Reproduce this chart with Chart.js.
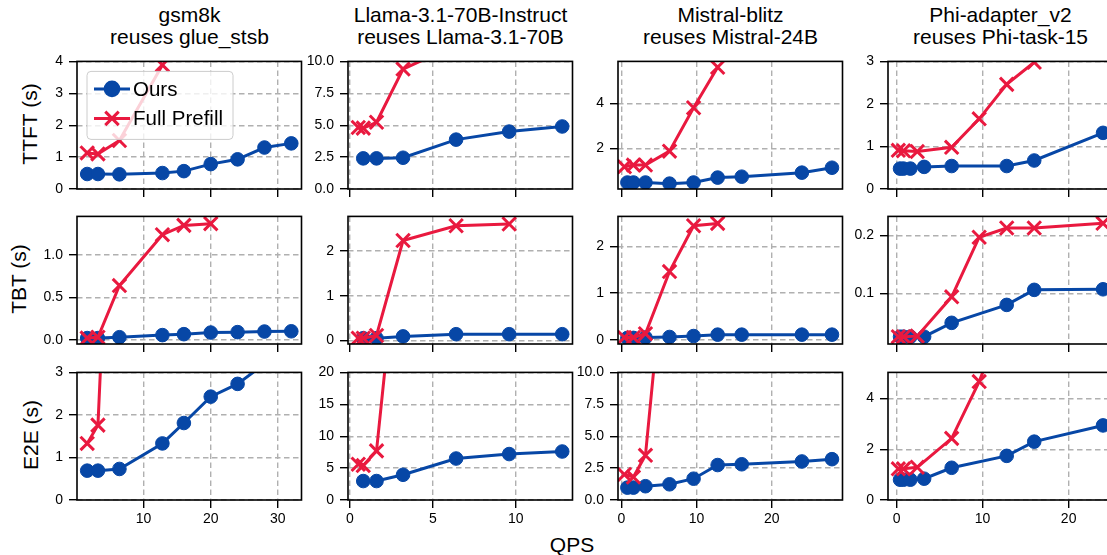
<!DOCTYPE html>
<html>
<head>
<meta charset="utf-8">
<script src="https://cdn.jsdelivr.net/npm/chart.js@4.4.1/dist/chart.umd.min.js"></script>
<style>
html, body { margin: 0; padding: 0; width: 1107px; height: 555px; overflow: hidden; background: #fff; }
body { position: relative; font-family: 'Liberation Sans', Arial, sans-serif; color: #000; }
canvas { position: absolute; }
.title { position: absolute; white-space: nowrap; font-size: 21px; line-height: 22px; text-align: center; transform: translateX(-50%); }
.ylab { position: absolute; white-space: nowrap; font-size: 21px; line-height: 24px; transform: translate(-50%, -50%) rotate(-90deg); }
.xlab { position: absolute; white-space: nowrap; font-size: 21px; line-height: 24px; transform: translate(-50%, -50%); }
</style>
</head>
<body>
<script>
// ---- data ----
const titles = [
    ['gsm8k', 'reuses glue_stsb'],
    ['Llama-3.1-70B-Instruct', 'reuses Llama-3.1-70B'],
    ['Mistral-blitz', 'reuses Mistral-24B'],
    ['Phi-adapter_v2', 'reuses Phi-task-15']
];
const rowLabels = ['TTFT (s)', 'TBT (s)', 'E2E (s)'];
const xLabel = 'QPS';
const seriesNames = ['Ours', 'Full Prefill'];

// QPS sampled per column
const oursQps = [
    [1.6, 3.2, 6.4, 12.8, 16, 20, 24, 28, 32],
    [0.8, 1.6, 3.2, 6.4, 9.6, 12.8],
    [0.8, 1.6, 3.2, 6.4, 9.6, 12.8, 16, 24, 28],
    [0.4, 0.8, 1.6, 3.2, 6.4, 12.8, 16, 24]
];
const fullQps = [
    [1.6, 3.2, 6.4, 12.8, 16, 20],
    [0.5, 0.8, 1.6, 3.2, 6.4, 9.6],
    [0.4, 1.6, 3.2, 6.4, 9.6, 12.8],
    [0.2, 0.8, 2.4, 6.4, 9.6, 12.8, 16, 24]
];

const ttftOurs = [
    [0.47, 0.47, 0.46, 0.50, 0.56, 0.78, 0.93, 1.30, 1.43],
    [2.4, 2.4, 2.45, 3.87, 4.5, 4.9],
    [0.47, 0.47, 0.47, 0.42, 0.47, 0.69, 0.73, 0.91, 1.13],
    [0.48, 0.48, 0.48, 0.52, 0.54, 0.54, 0.67, 1.32]
];
const ttftFull = [
    [1.13, 1.10, 1.52, 3.89],
    [4.82, 4.77, 5.23, 9.4, 11.3, 13.0],
    [1.17, 1.25, 1.25, 1.87, 3.81, 5.62],
    [0.91, 0.90, 0.88, 0.98, 1.65, 2.46, 2.98, 4.2]
];
const tbtOurs = [
    [0.02, 0.02, 0.03, 0.055, 0.066, 0.085, 0.09, 0.097, 0.10],
    [0.05, 0.05, 0.09, 0.14, 0.14, 0.14],
    [0.04, 0.04, 0.05, 0.06, 0.08, 0.11, 0.11, 0.11, 0.11],
    [0.025, 0.025, 0.025, 0.025, 0.049, 0.080, 0.106, 0.107]
];
const tbtFull = [
    [0.02, 0.03, 0.64, 1.24, 1.35, 1.37],
    [0.05, 0.05, 0.11, 2.24, 2.57, 2.61],
    [0.05, 0.05, 0.13, 1.46, 2.44, 2.49],
    [0.025, 0.025, 0.026, 0.094, 0.197, 0.213, 0.213, 0.221]
];
const e2eOurs = [
    [0.69, 0.69, 0.73, 1.33, 1.81, 2.43, 2.73, 3.2, 3.7],
    [2.97, 2.97, 3.95, 6.5, 7.2, 7.6],
    [0.97, 0.97, 1.08, 1.23, 1.67, 2.74, 2.8, 3.02, 3.2],
    [0.8, 0.8, 0.8, 0.84, 1.27, 1.74, 2.3, 2.94]
];
const e2eFull = [
    [1.33, 1.76, 13.0],
    [5.6, 5.4, 7.7, 48.0],
    [2.0, 1.8, 3.5, 23.0],
    [1.23, 1.23, 1.29, 2.43, 4.67, 7.5]
];

// tick labels
const xTickLabels = [['10', '20', '30'], ['0', '5', '10'], ['0', '10', '20'], ['0', '10', '20']];
const yTickLabels = [
    [['0', '1', '2', '3', '4'], ['0.0', '2.5', '5.0', '7.5', '10.0'], ['2', '4'], ['0', '1', '2', '3']],
    [['0.0', '0.5', '1.0'], ['0', '1', '2'], ['0', '1', '2'], ['0.1', '0.2']],
    [['0', '1', '2', '3'], ['0', '5', '10', '15', '20'], ['0.0', '2.5', '5.0', '7.5', '10.0'], ['0', '2', '4']]
];
// axis ranges
const xRanges = [[0.08, 33.52], [-0.12, 13.42], [-0.45, 29.4], [-1.0, 25.1]];
const yRanges = [
    [[0, 4], [0, 10], [0.18, 5.88], [0, 3]],
    [[-0.05, 1.456], [-0.08, 2.78], [-0.09, 2.64], [0.0124, 0.233]],
    [[0, 3], [0, 20], [0, 10], [0, 5.03]]
];

const rows = [
    {ours: ttftOurs, full: ttftFull},
    {ours: tbtOurs, full: tbtFull},
    {ours: e2eOurs, full: e2eFull}
];

// ---- layout / style ----
const blue = '#0747a6';
const red = '#e9193f';
const gridColor = '#b0b0b0';
const colLeft = [77, 348, 618, 888];
const rowTop = [59, 214, 370];
const plotW = 225, plotH = 130;
const padL = 62, padT = 12, padR = 12, padB = 34;
const ylabX = [30, 19, 31];

Chart.defaults.font.family = "'Liberation Sans', Arial, sans-serif";
Chart.defaults.font.size = 14;
Chart.defaults.color = '#000';

function addText(cls, html, left, top) {
    const d = document.createElement('div');
    d.className = cls;
    d.innerHTML = html;
    d.style.left = left + 'px';
    d.style.top = top + 'px';
    document.body.appendChild(d);
}

titles.forEach((t, c) => addText('title', t[0] + '<br>' + t[1], colLeft[c] + plotW / 2, 4));
rowLabels.forEach((t, r) => addText('ylab', t, ylabX[r], rowTop[r] + plotH / 2));
addText('xlab', xLabel, 572, 545);

const framePlugin = {
    id: 'frame',
    afterDatasetsDraw(chart) {
        const {ctx, chartArea: a} = chart;
        ctx.save();
        ctx.strokeStyle = '#000';
        ctx.lineWidth = 1.6;
        ctx.strokeRect(a.left, a.top, a.right - a.left, a.bottom - a.top);
        ctx.restore();
    }
};

const legendPlugin = {
    id: 'inlegend',
    afterDraw(chart) {
        const {ctx, chartArea: a} = chart;
        const x0 = a.left + 10, y0 = a.top + 10, w = 146, h = 68;
        ctx.save();
        ctx.beginPath();
        if (ctx.roundRect) ctx.roundRect(x0, y0, w, h, 4); else ctx.rect(x0, y0, w, h);
        ctx.fillStyle = 'rgba(255,255,255,0.8)';
        ctx.fill();
        ctx.strokeStyle = '#cccccc';
        ctx.lineWidth = 1;
        ctx.stroke();
        const items = [
            {label: seriesNames[0], color: blue, style: 'circle', radius: 6.8, bw: 1},
            {label: seriesNames[1], color: red, style: 'crossRot', radius: 9.5, bw: 3}
        ];
        items.forEach((it, i) => {
            const y = y0 + 17.5 + i * 29.5;
            ctx.strokeStyle = it.color;
            ctx.lineWidth = 3;
            ctx.beginPath();
            ctx.moveTo(x0 + 7, y);
            ctx.lineTo(x0 + 43, y);
            ctx.stroke();
            ctx.fillStyle = it.color;
            Chart.helpers.drawPoint(ctx, {pointStyle: it.style, radius: it.radius, borderWidth: it.bw, rotation: 0}, x0 + 25, y);
            ctx.fillStyle = '#000';
            ctx.font = "20.5px 'Liberation Sans', Arial, sans-serif";
            ctx.textBaseline = 'middle';
            ctx.textAlign = 'left';
            ctx.fillText(it.label, x0 + 46, y + 1);
        });
        ctx.restore();
    }
};

function makePanel(r, c) {
    const cv = document.createElement('canvas');
    cv.width = plotW + padL + padR;
    cv.height = plotH + padT + padB;
    cv.style.left = (colLeft[c] - padL) + 'px';
    cv.style.top = (rowTop[r] - padT) + 'px';
    document.body.appendChild(cv);

    const ours = rows[r].ours[c].map((y, i) => ({x: oursQps[c][i], y}));
    const full = rows[r].full[c].map((y, i) => ({x: fullQps[c][i], y}));
    const xt = xTickLabels[c];
    const yt = yTickLabels[r][c];

    const plugins = [framePlugin];
    if (r === 0 && c === 0) plugins.push(legendPlugin);

    new Chart(cv.getContext('2d'), {
        type: 'line',
        data: {
            datasets: [
                {
                    label: seriesNames[0], data: ours, order: 1,
                    borderColor: blue, backgroundColor: blue, borderWidth: 3,
                    pointStyle: 'circle', pointRadius: 6.8, pointBorderWidth: 1,
                    pointBackgroundColor: blue, pointBorderColor: blue, tension: 0, clip: 0
                },
                {
                    label: seriesNames[1], data: full, order: 0,
                    borderColor: red, backgroundColor: red, borderWidth: 3,
                    pointStyle: 'crossRot', pointRadius: 9.5, pointBorderWidth: 3,
                    pointBorderColor: red, tension: 0, clip: 0
                }
            ]
        },
        options: {
            responsive: false,
            animation: false,
            devicePixelRatio: 1,
            events: [],
            layout: {padding: {left: 0, top: padT, right: padR, bottom: 0}},
            plugins: {legend: {display: false}, tooltip: {enabled: false}},
            scales: {
                x: {
                    type: 'linear', min: xRanges[c][0], max: xRanges[c][1],
                    afterBuildTicks: s => { s.ticks = xt.map(v => ({value: Number(v)})); },
                    afterFit: s => { s.height = padB; },
                    ticks: {display: r === 2, callback: (v, i) => xt[i], color: '#000', padding: 3, maxRotation: 0, autoSkip: false},
                    grid: {color: gridColor, lineWidth: 1.4, tickLength: 8, tickColor: '#000', tickWidth: 1.4},
                    border: {display: false, dash: [5.5, 3.5]}
                },
                y: {
                    type: 'linear', min: yRanges[r][c][0], max: yRanges[r][c][1],
                    afterBuildTicks: s => { s.ticks = yt.map(v => ({value: Number(v)})); },
                    afterFit: s => { s.width = padL; },
                    ticks: {callback: (v, i) => yt[i], color: '#000', padding: 6, autoSkip: false},
                    grid: {color: gridColor, lineWidth: 1.4, tickLength: 8, tickColor: '#000', tickWidth: 1.4},
                    border: {display: false, dash: [5.5, 3.5]}
                }
            }
        },
        plugins
    });
}

for (let r = 0; r < 3; r++) {
    for (let c = 0; c < 4; c++) makePanel(r, c);
}
</script>
</body>
</html>
